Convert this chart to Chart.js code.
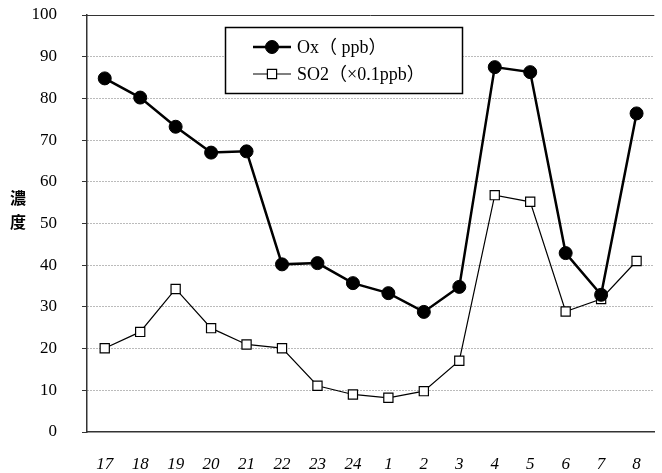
<!DOCTYPE html>
<html>
<head>
<meta charset="utf-8">
<script src="https://cdn.jsdelivr.net/npm/chart.js@4/dist/chart.umd.min.js"></script>
<style>
  html, body { margin: 0; padding: 0; background: #fff; }
  #wrap { width: 662px; height: 473px; }
</style>
</head>
<body>
<div id="wrap"><canvas id="c"></canvas></div>
<script>
// hours, 17:00 to 8:00 next morning
const hours = ["17", "18", "19", "20", "21", "22", "23", "24", "1", "2", "3", "4", "5", "6", "7", "8"];
const oxValues = [84.8, 80.2, 73.2, 67.0, 67.3, 40.2, 40.5, 35.7, 33.3, 28.8, 34.8, 87.5, 86.3, 42.9, 32.9, 76.4];
const so2Values = [20.1, 24.0, 34.3, 24.9, 21.0, 20.1, 11.1, 9.0, 8.2, 9.8, 17.1, 56.8, 55.2, 28.9, 31.9, 41.0];
const yTicks = [0, 10, 20, 30, 40, 50, 60, 70, 80, 90, 100];

const tickFont = { family: "'Liberation Serif', 'DejaVu Serif', serif", size: 17 };

// legend box, axis title and the solid top line
const decorations = {
    id: "decorations",
    afterDraw(chart) {
        const ctx = chart.ctx;
        const area = chart.chartArea;
        const y = chart.scales.y;

        ctx.save();
        // solid line at 100
        ctx.strokeStyle = "#333";
        ctx.lineWidth = 1;
        ctx.beginPath();
        ctx.moveTo(area.left, Math.round(y.getPixelForValue(100)) + 0.5);
        ctx.lineTo(area.right, Math.round(y.getPixelForValue(100)) + 0.5);
        ctx.stroke();

        // 濃度, written vertically
        ctx.fillStyle = "#000";
        ctx.font = "bold 16px 'Noto Sans CJK JP'";
        ctx.textAlign = "center";
        ctx.textBaseline = "middle";
        ctx.fillText("濃", 18, 198);
        ctx.fillText("度", 18, 222);

        // legend
        const bx = 225, by = 27, bw = 237, bh = 66;
        ctx.fillStyle = "#fff";
        ctx.fillRect(bx, by, bw, bh);
        ctx.strokeStyle = "#000";
        ctx.lineWidth = 1.5;
        ctx.strokeRect(bx + 0.5, by + 0.5, bw, bh);

        const rows = [47, 74];
        chart.data.datasets.forEach((ds, i) => {
            const ry = rows[i];
            ctx.strokeStyle = "#000";
            ctx.lineWidth = ds.borderWidth;
            ctx.beginPath();
            ctx.moveTo(253, ry);
            ctx.lineTo(291, ry);
            ctx.stroke();
            ctx.fillStyle = ds.pointBackgroundColor;
            ctx.strokeStyle = ds.pointBorderColor;
            ctx.lineWidth = ds.pointBorderWidth;
            Chart.helpers.drawPoint(ctx, {
                pointStyle: ds.pointStyle,
                radius: ds.pointRadius,
                rotation: 0,
                borderWidth: ds.pointBorderWidth
            }, 272, ry);
            ctx.fillStyle = "#000";
            ctx.font = "18px 'Liberation Serif', 'Noto Sans CJK JP', serif";
            ctx.textAlign = "left";
            ctx.fillText(ds.label, 297, ry + 1);
        });
        ctx.restore();
    }
};

new Chart(document.getElementById("c"), {
    type: "line",
    data: {
        labels: hours,
        datasets: [
            {
                label: "Ox（ ppb）",
                data: oxValues,
                borderColor: "#000",
                borderWidth: 2.5,
                pointStyle: "circle",
                pointRadius: 6.5,
                pointBackgroundColor: "#000",
                pointBorderColor: "#000",
                pointBorderWidth: 1,
                tension: 0
            },
            {
                label: "SO2（×0.1ppb）",
                data: so2Values,
                borderColor: "#000",
                borderWidth: 1.2,
                pointStyle: "rect",
                pointRadius: 6.5,
                pointBackgroundColor: "#fff",
                pointBorderColor: "#000",
                pointBorderWidth: 1.2,
                tension: 0
            }
        ]
    },
    options: {
        responsive: true,
        maintainAspectRatio: false,
        animation: false,
        layout: { padding: { top: 15, left: 0, right: 0, bottom: 0 } },
        plugins: {
            legend: { display: false },
            tooltip: { enabled: false }
        },
        scales: {
            x: {
                offset: true,
                afterFit(scale) {
                    scale.height = 41;
                    scale.paddingLeft = 0;
                    scale.paddingRight = 0;
                },
                grid: { display: false, drawTicks: false },
                border: { display: true, color: "#333", width: 1.5 },
                ticks: {
                    color: "#000",
                    font: { ...tickFont, style: "italic" },
                    padding: 22,
                    maxRotation: 0,
                    autoSkip: false
                }
            },
            y: {
                min: 0,
                max: 100,
                afterFit(scale) {
                    scale.width = 87;
                    scale.paddingTop = 0;
                    scale.paddingBottom = 0;
                },
                afterBuildTicks(scale) {
                    scale.ticks = yTicks.map(v => ({ value: v }));
                },
                grid: {
                    color: ctx => (ctx.tick && (ctx.tick.value === 0 || ctx.tick.value === 100)) ? "rgba(0,0,0,0)" : "#777",
                    tickColor: "#333",
                    tickLength: 5,
                    tickBorderDash: [],
                    lineWidth: 1
                },
                border: { display: true, color: "#333", width: 1.5, dash: [1, 2] },
                ticks: {
                    color: "#000",
                    font: tickFont,
                    padding: 25
                }
            }
        }
    },
    plugins: [decorations]
});
</script>
</body>
</html>
